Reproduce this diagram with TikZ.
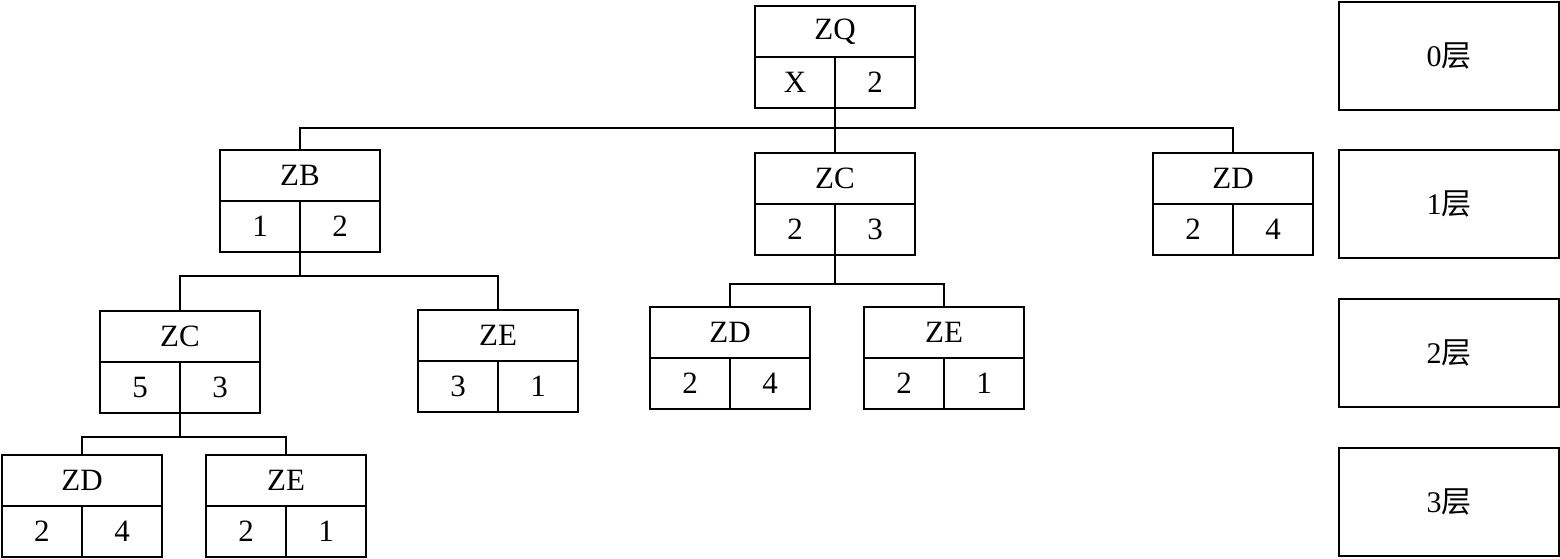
\documentclass[tikz,border=0pt]{standalone}
\usepackage{fontspec}
\setmainfont{Liberation Serif}
\newfontfamily\cjk{Noto Sans CJK SC}
\usetikzlibrary{calc}
\tikzset{
  recframe/.style={draw, line width=2.6pt, minimum width=160pt, minimum height=102pt, inner sep=0pt, outer sep=0pt, anchor=north west},
  cellline/.style={line width=2.6pt},
  conn/.style={line width=1.2pt},
  lvlbox/.style={draw, line width=2.6pt, minimum width=220pt, minimum height=108pt, inner sep=0pt, outer sep=0pt, anchor=north west},
  txt/.style={font=\fontsize{31}{34}\selectfont, inner sep=0pt},
  lvltxt/.style={font=\fontsize{30}{33}\selectfont, inner sep=0pt}
}
\newcommand\recbox[6]{%
  \node[recframe] (#1) at (#2,#3) {};
  \draw[cellline] (#1.west) -- (#1.east);
  \draw[cellline] (#1.center) -- (#1.south);
  \node[txt] (#1-t) at ($(#1.north)!0.5!(#1.center)$) {#4};
  \node[txt] (#1-a) at ($(#1.south west)!0.5!(#1.center)$) {#5};
  \node[txt] (#1-b) at ($(#1.south east)!0.5!(#1.center)$) {#6};
}
\begin{document}
\begin{tikzpicture}[x=1pt,y=-1pt]
\useasboundingbox (0,0) rectangle (1560,559);
% records
\recbox{ZQ}{755}{6}{ZQ}{X}{2}
\recbox{ZB}{220}{150}{ZB}{1}{2}
\recbox{ZCa}{755}{153}{ZC}{2}{3}
\recbox{ZDa}{1153}{153}{ZD}{2}{4}
\recbox{ZCb}{100}{311}{ZC}{5}{3}
\recbox{ZEb}{418}{310}{ZE}{3}{1}
\recbox{ZDb}{650}{307}{ZD}{2}{4}
\recbox{ZEc}{864}{307}{ZE}{2}{1}
\recbox{ZDc}{2}{455}{ZD}{2}{4}
\recbox{ZEd}{206}{455}{ZE}{2}{1}
% connectors
\coordinate (j0) at (ZQ.south |- 0,128);
\coordinate (j1) at (ZB.south |- 0,276);
\coordinate (j2) at (ZCa.south |- 0,284);
\coordinate (j3) at (ZCb.south |- 0,437);
\draw[conn] (ZQ.south) -- (j0);
\draw[conn] (ZB.north) |- (j0) -| (ZDa.north);
\draw[conn] (j0) -- (ZCa.north);
\draw[conn] (ZB.south) -- (j1);
\draw[conn] (ZCb.north) |- (j1) -| (ZEb.north);
\draw[conn] (ZCa.south) -- (j2);
\draw[conn] (ZDb.north) |- (j2) -| (ZEc.north);
\draw[conn] (ZCb.south) -- (j3);
\draw[conn] (ZDc.north) |- (j3) -| (ZEd.north);
% level labels
\node[lvlbox] (L0) at (1339,2) {};
\node[lvlbox] (L1) at (1339,150) {};
\node[lvlbox] (L2) at (1339,299) {};
\node[lvlbox] (L3) at (1339,448) {};
\node[lvltxt] (L0t) at (L0.center) {0{\cjk 层}};
\node[lvltxt] (L1t) at (L1.center) {1{\cjk 层}};
\node[lvltxt] (L2t) at (L2.center) {2{\cjk 层}};
\node[lvltxt] (L3t) at (L3.center) {3{\cjk 层}};
\end{tikzpicture}
\end{document}
